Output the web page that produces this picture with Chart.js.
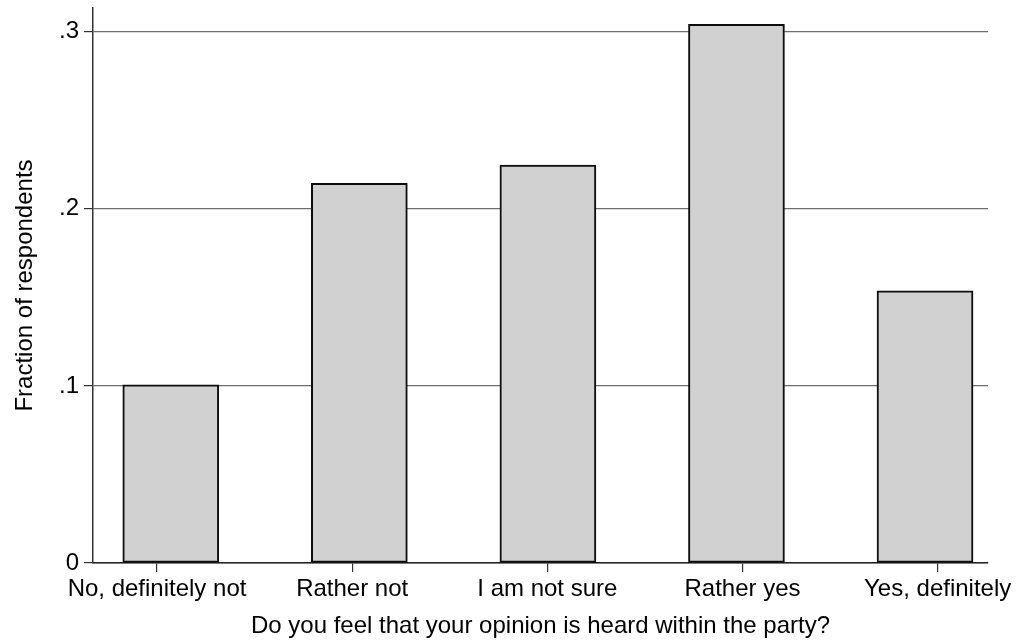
<!DOCTYPE html>
<html>
<head>
<meta charset="utf-8">
<script src="https://cdn.jsdelivr.net/npm/chart.js@4/dist/chart.umd.min.js"></script>
<style>
  html, body { margin: 0; padding: 0; background: #fff; }
  #wrap { width: 1018px; height: 643px; }
</style>
</head>
<body>
<div id="wrap"><canvas id="myChart" width="1018" height="643"></canvas></div>
<script>
// answers, in the order shown on the x axis
var categories = ['No, definitely not', 'Rather not', 'I am not sure', 'Rather yes', 'Yes, definitely'];
var fractions = [0.1006, 0.2144, 0.2247, 0.3042, 0.1537];
var positions = [1, 2, 3, 4, 5];
var yTicks = [0, 0.1, 0.2, 0.3];

var fontFamily = '"Liberation Sans", Arial, Helvetica, sans-serif';

function fmtTick(v) {
  if (v === 0) return '0';
  return String(Math.round(v * 10) / 10).replace(/^0/, '');
}

var points = [];
for (var i = 0; i < positions.length; i++) {
  points.push({x: positions[i], y: fractions[i]});
}

var ctx = document.getElementById('myChart').getContext('2d');
var myChart = new Chart(ctx, {
  type: 'bar',
  data: {
    datasets: [{
      data: points,
      xAxisID: 'x',
      yAxisID: 'y',
      backgroundColor: '#d1d1d1',
      borderColor: '#0d0d0d',
      borderWidth: 2,
      borderSkipped: false,
      barThickness: 96
    }]
  },
  options: {
    responsive: false,
    animation: false,
    layout: {
      padding: {top: 8, right: 30, left: 0, bottom: 0}
    },
    plugins: {
      legend: {display: false},
      tooltip: {enabled: false}
    },
    scales: {
      x: {
        type: 'linear',
        position: 'bottom',
        display: false,
        offset: false,
        min: 0.5875,
        max: 5.334
      },
      xLab: {
        type: 'linear',
        position: 'bottom',
        offset: false,
        min: 0.672,
        max: 5.258,
        afterBuildTicks: function(axis) {
          axis.ticks = positions.map(function(p) { return {value: p}; });
        },
        afterFit: function(axis) {
          axis.height = 80;
          axis.paddingLeft = 0;
          axis.paddingRight = 0;
        },
        border: {display: true, color: '#222', width: 1.5},
        grid: {
          offset: false,
          drawOnChartArea: false,
          drawTicks: true,
          tickLength: 9,
          tickColor: '#333',
          lineWidth: 1.2
        },
        ticks: {
          autoSkip: false,
          maxRotation: 0,
          padding: 3,
          color: '#000',
          font: {family: fontFamily, size: 24},
          callback: function(value) {
            return categories[positions.indexOf(value)];
          }
        },
        title: {
          display: true,
          text: 'Do you feel that your opinion is heard within the party?',
          color: '#000',
          font: {family: fontFamily, size: 24},
          padding: {top: 0, bottom: 2}
        }
      },
      y: {
        type: 'linear',
        min: 0,
        max: 0.3134,
        afterBuildTicks: function(axis) {
          axis.ticks = yTicks.map(function(v) { return {value: v}; });
        },
        afterFit: function(axis) {
          axis.width = 93;
          axis.paddingTop = 0;
          axis.paddingBottom = 0;
        },
        border: {display: true, color: '#333', width: 1.5},
        grid: {
          color: '#6e6e6e',
          lineWidth: 1.2,
          drawTicks: true,
          tickLength: 9,
          tickColor: '#333'
        },
        ticks: {
          padding: 5,
          color: '#000',
          font: {family: fontFamily, size: 24},
          callback: function(value) {
            return fmtTick(value);
          }
        },
        title: {
          display: true,
          text: 'Fraction of respondents',
          color: '#000',
          font: {family: fontFamily, size: 24},
          padding: {top: 11, bottom: 0}
        }
      }
    }
  }
});
</script>
</body>
</html>
